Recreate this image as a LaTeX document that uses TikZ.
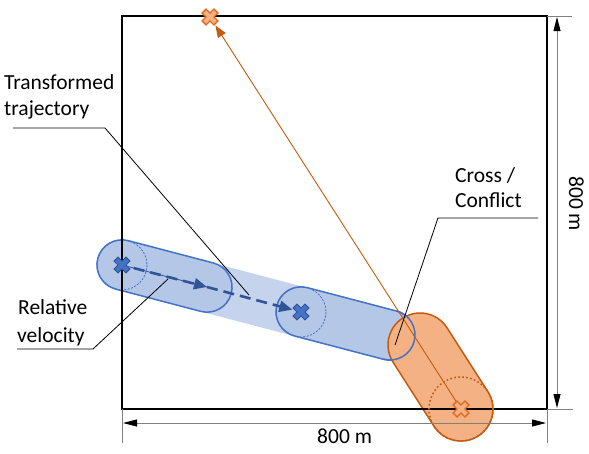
\documentclass[tikz,border=0pt]{standalone}
\usepackage{fontspec}
\setmainfont{Carlito}
\usetikzlibrary{arrows.meta,calc}
\definecolor{bfill}{HTML}{B4C7E7}
\definecolor{bline}{HTML}{4472C4}
\definecolor{bdark}{HTML}{2F5597}
\definecolor{ofill}{HTML}{F4B183}
\definecolor{oline}{HTML}{C55A11}
\definecolor{oxfill}{HTML}{F4B183}
\definecolor{oxline}{HTML}{E06A1E}
\definecolor{dimgray}{HTML}{808080}
\tikzset{
  bcapsule/.style={draw=bline, line width=1.5pt, fill=bfill, inner sep=0pt, minimum height=50pt, rounded corners=25pt},
  bband/.style={fill=bfill!78, inner sep=0pt, minimum height=50pt},
  ocapsule/.style={draw=oline, line width=1.5pt, fill=ofill, inner sep=0pt, minimum height=64pt, rounded corners=32pt},
  lbl/.style={anchor=base west, inner sep=0pt, text=black},
  callout/.style={draw=black, line width=0.8pt},
  dimext/.style={draw=dimgray, line width=0.9pt},
  dimline/.style={draw=dimgray, line width=0.9pt, {Triangle[length=14pt,width=7pt,color=black]}-{Triangle[length=14pt,width=7pt,color=black]}},
  relarrow/.style={draw=bdark, line width=2.6pt, dash pattern=on 11pt off 6pt, -{Triangle[length=13pt,width=11pt]}},
  xmark/.pic={\path[pic actions,rotate=45] (-2.8,-8.4) -- (2.8,-8.4) -- (2.8,-2.8) -- (8.4,-2.8) -- (8.4,2.8) -- (2.8,2.8) -- (2.8,8.4) -- (-2.8,8.4) -- (-2.8,2.8) -- (-8.4,2.8) -- (-8.4,-2.8) -- (-2.8,-2.8) -- cycle;},
  bx/.style={fill=bline, draw=bdark, line width=0.9pt},
  ox/.style={fill=oxfill, draw=oxline, line width=1.3pt}
}
\begin{document}
\begin{tikzpicture}[x=1pt, y=-1pt, font=\fontsize{21.5}{25}\selectfont]
\useasboundingbox (0,0) rectangle (589,453);
% key points
\coordinate (S) at (122,265);
\coordinate (M) at (207,287);
\coordinate (E) at (301,312);
\coordinate (F) at (390,335);
\coordinate (O1) at (461,409);
\coordinate (O2) at (420,345);
\coordinate (OT) at (210,17);
\coordinate (SQa) at (122,16);
\coordinate (SQb) at (547,409);
% blue trajectory
\node[bband, minimum width=185pt, rotate=-14.7] (band) at ($(S)!0.5!(E)$) {};
\node[bcapsule, minimum width=138pt, rotate=-14.7] (cap1) at ($(S)!0.5!(M)$) {};
\node[bcapsule, minimum width=142pt, rotate=-14.7] (cap2) at ($(E)!0.5!(F)$) {};
% orange capsule
\node[ocapsule, minimum width=140pt, rotate=-57.4] (ocap) at ($(O1)!0.5!(O2)$) {};
\draw[bline, line width=1.5pt] (F) ++(-75.3:25) arc[start angle=-75.3, end angle=104.7, radius=25];
\draw[bline, line width=0.8pt, dash pattern=on 2pt off 1.5pt] (S) circle[radius=25];
\draw[bline, line width=0.8pt, dash pattern=on 2pt off 1.5pt] (E) circle[radius=25];
% square
\draw[black, line width=2.5pt] (SQa) rectangle (SQb);
% orange dotted circle and line
\draw[oline, line width=1.6pt, dash pattern=on 1.6pt off 2.4pt] (O1) circle[radius=32];
\draw[oline, line width=0.9pt, shorten >=10pt, -{Triangle[length=12pt,width=9pt]}] (O1) -- (OT);
% dimensions
\coordinate (HL) at (123,423);
\coordinate (HR) at (546,423);
\coordinate (HLb) at (122,443);
\coordinate (HRb) at (547,443);
\coordinate (VT) at (557,17);
\coordinate (VB) at (557,408);
\coordinate (VTe) at (572,16);
\coordinate (VBe) at (573,409);
\coordinate (SQtr) at (547,16);
\coordinate (SQbl) at (122,409);
\draw[dimext] (SQbl) -- (HLb);
\draw[dimext] (SQb) -- (HRb);
\draw[dimext] (SQtr) -- (VTe);
\draw[dimext] (SQb) -- (VBe);
\draw[dimline] (HL) -- (HR);
\draw[dimline] (VT) -- (VB);
\node[lbl] (dimH) at (317,443) {800 m};
\node[lbl, rotate=-90] (dimV) at (569,176) {800 m};
% relative velocity arrows
\draw[bdark, line width=0.8pt] (S) -- (M);
\draw[relarrow, shorten <=12pt] (S) -- (M);
\draw[relarrow, shorten >=9pt] (M) -- (E);
% markers
\pic[bx] at (S) {xmark};
\pic[bx] at (E) {xmark};
\pic[ox] at (O1) {xmark};
\pic[ox] at (OT) {xmark};
% callouts
\coordinate (tt1) at (13,128);
\coordinate (tt2) at (105,128);
\coordinate (tt3) at (249,295);
\coordinate (rv1) at (17,349);
\coordinate (rv2) at (93,349);
\coordinate (rv3) at (168,279);
\coordinate (cc1) at (538,218);
\coordinate (cc2) at (438,218);
\coordinate (cc3) at (395,345);
\draw[callout] (tt1) -- (tt2) -- (tt3);
\draw[callout] (rv1) -- (rv2) -- (rv3);
\draw[callout] (cc1) -- (cc2) -- (cc3);
\node[lbl] (tA) at (4,89) {Transformed};
\node[lbl] (tB) at (4,115) {trajectory};
\node[lbl] (rA) at (18,314) {Relative};
\node[lbl] (rB) at (17,342) {velocity};
\node[lbl] (cA) at (455,182) {Cross /};
\node[lbl] (cB) at (455,207) {Conflict};
\end{tikzpicture}
\end{document}
